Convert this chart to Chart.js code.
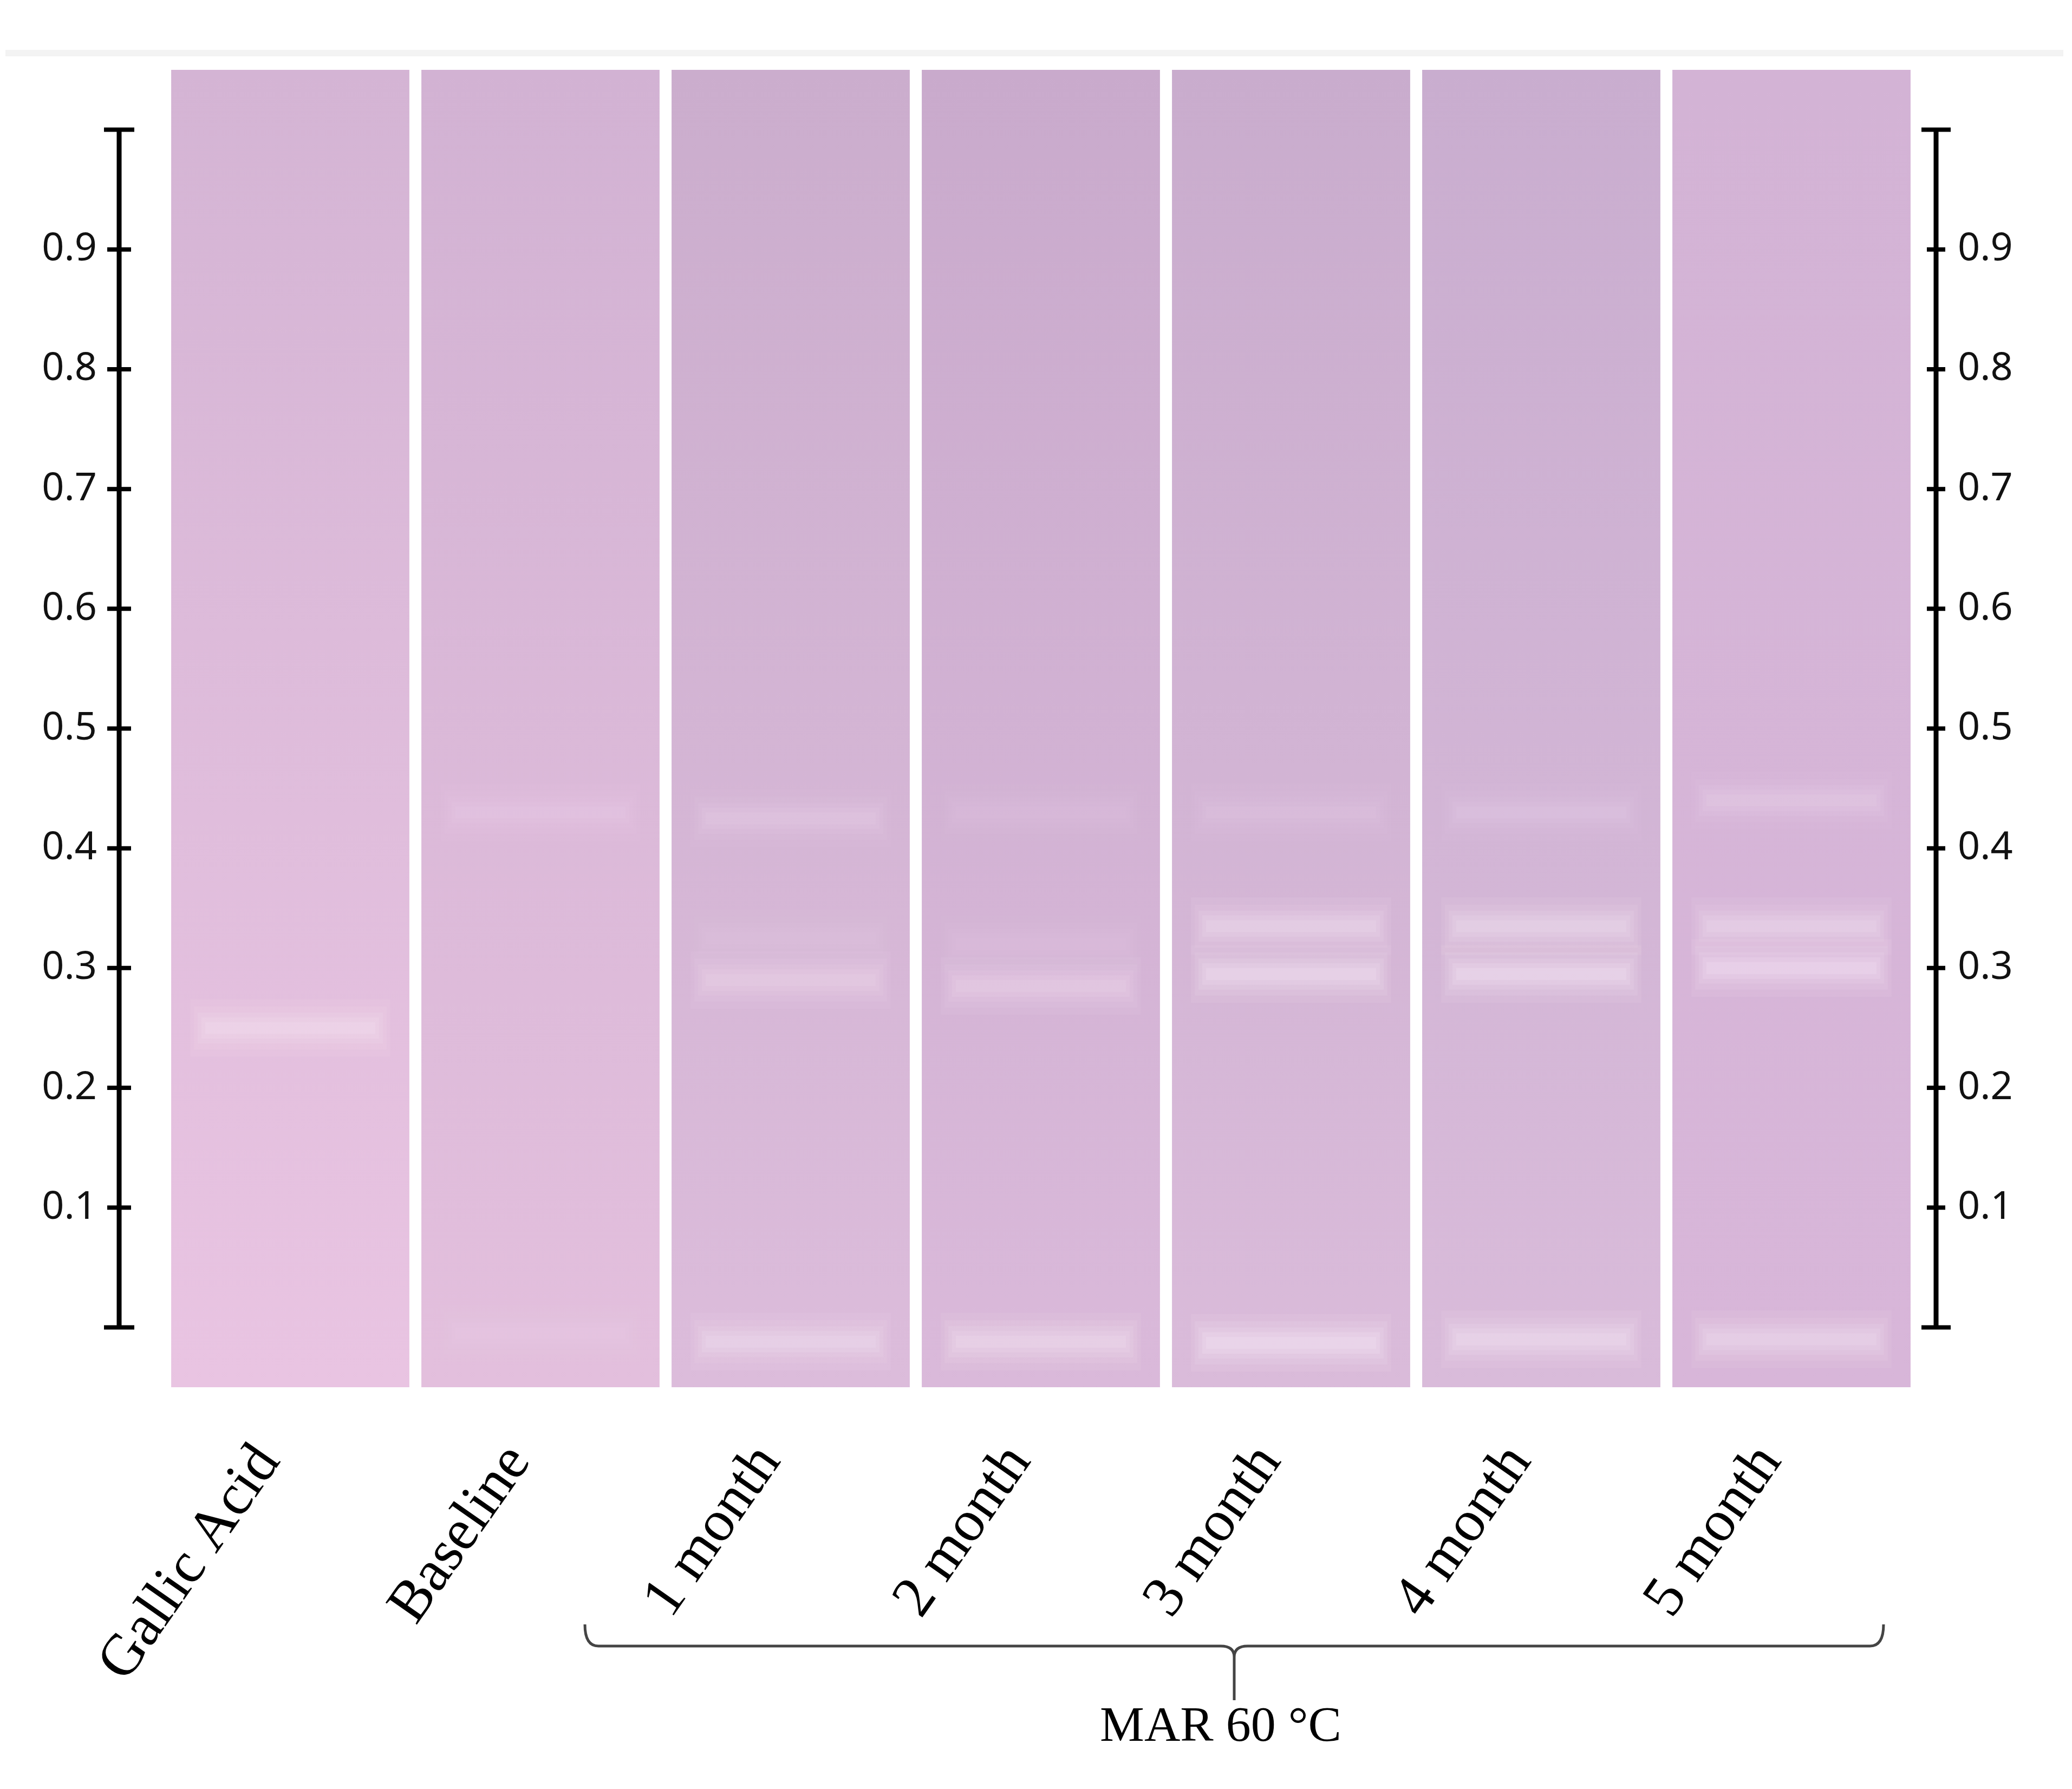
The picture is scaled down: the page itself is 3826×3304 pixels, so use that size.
<!DOCTYPE html>
<html><head><meta charset="utf-8">
<script src="https://cdn.jsdelivr.net/npm/chart.js@4.4.0/dist/chart.umd.min.js"></script>
<style>html,body{margin:0;padding:0;background:#fff}canvas{display:block}</style>
</head><body>
<canvas id="c" width="3826" height="3304"></canvas>
<script>
// ---- data ----
const lanes = ['Gallic Acid','Baseline','1 month','2 month','3 month','4 month','5 month'];
const yTicks = [0.1,0.2,0.3,0.4,0.5,0.6,0.7,0.8,0.9];
const plateRange = [-0.05, 1.05];
const laneTop = ['#d4b4d4','#d2b2d3','#cbadcd','#c9aacc','#c9accd','#c9adcf','#d3b3d5'];
const laneBottom = ['#e9c4e2','#e3bfdd','#dcbcdb','#dab9da','#dabbda','#d9bbda','#d8b6d9'];
// band Rf values per lane (null = no band) and intensity 0..1
const rfStandard = [0.25, null, null, null, null, null, null];
const intStandard = [0.75, 0, 0, 0, 0, 0, 0];
const rfTop = [null, 0.43, 0.425, 0.43, 0.43, 0.43, 0.44];
const intTop = [0, 0.3, 0.35, 0.2, 0.25, 0.3, 0.4];
const rfUpper = [null, null, 0.325, 0.32, 0.335, 0.335, 0.335];
const intUpper = [0, 0, 0.2, 0.2, 0.7, 0.75, 0.7];
const rfLower = [null, null, 0.29, 0.285, 0.295, 0.295, 0.30];
const intLower = [0, 0, 0.5, 0.55, 0.85, 0.9, 0.9];
const rfOrigin = [null, -0.005, -0.012, -0.012, -0.013, -0.01, -0.01];
const intOrigin = [0, 0.2, 0.7, 0.75, 0.95, 0.85, 0.75];

// ---- build datasets ----
function laneGradient(ctx, i) {
  const ch = ctx.chart, a = ch.chartArea;
  if (!a) return laneTop[i];
  const g = ch.ctx.createLinearGradient(0, a.top, 0, a.bottom);
  g.addColorStop(0, laneTop[i]); g.addColorStop(1, laneBottom[i]);
  return g;
}
const datasets = [{
  label: 'plate',
  data: lanes.map(() => plateRange.slice()),
  backgroundColor: ctx => laneGradient(ctx, ctx.dataIndex),
  barPercentage: 0.952, categoryPercentage: 1, grouped: false, order: 20
}];
function addBand(rf, inten, half, alphaScale, pct, order) {
  datasets.push({
    label: 'band',
    data: rf.map(v => v === null ? null : [v - half, v + half]),
    backgroundColor: ctx => 'rgba(250,236,248,' + (inten[ctx.dataIndex] * alphaScale).toFixed(3) + ')',
    barPercentage: pct, categoryPercentage: 1, grouped: false, order: order
  });
}
[[rfStandard,intStandard],[rfTop,intTop],[rfUpper,intUpper],[rfLower,intLower],[rfOrigin,intOrigin]].forEach(([rf,it]) => {
  addBand(rf, it, 0.024, 0.10, 0.80, 9);
  addBand(rf, it, 0.018, 0.12, 0.77, 8);
  addBand(rf, it, 0.013, 0.15, 0.74, 7);
  addBand(rf, it, 0.009, 0.18, 0.71, 6);
  addBand(rf, it, 0.005, 0.20, 0.68, 5);
});

// ---- decorations plugin ----
const deco = {
  id: 'deco',
  beforeDraw(chart) {
    const c = chart.ctx;
    c.save();
    c.fillStyle = '#f3f3f3';
    c.fillRect(10, 92, 3800, 12);
    c.restore();
  },
  afterDraw(chart) {
    const c = chart.ctx, y = chart.scales.y, x = chart.scales.x, a = chart.chartArea;
    const y0 = y.getPixelForValue(0), y1 = y.getPixelForValue(1);
    c.save();
    c.strokeStyle = '#000'; c.lineWidth = 9;
    [[a.left - 85, 28, 22], [a.right + 36, 27, 17]].forEach(([ax, cap, tk]) => {
      c.beginPath(); c.moveTo(ax, y1); c.lineTo(ax, y0); c.stroke();
      c.lineWidth = 8;
      c.beginPath(); c.moveTo(ax - cap, y1); c.lineTo(ax + cap, y1);
      c.moveTo(ax - cap, y0); c.lineTo(ax + cap, y0); c.stroke();
      yTicks.forEach(t => {
        const p = y.getPixelForValue(t);
        c.beginPath(); c.moveTo(ax - tk, p); c.lineTo(ax + tk, p); c.stroke();
      });
      c.lineWidth = 9;
    });
    // bracket
    const bl = x.getPixelForValue(2) - 380, br = x.getPixelForValue(6) + 170;
    const bm = (bl + br) / 2, by = 3040;
    c.strokeStyle = '#444'; c.lineWidth = 5;
    c.beginPath();
    c.moveTo(bl, by - 40); c.quadraticCurveTo(bl, by, bl + 25, by);
    c.lineTo(bm - 25, by); c.quadraticCurveTo(bm, by, bm, by + 20); c.lineTo(bm, by + 100);
    c.moveTo(bm, by + 20); c.quadraticCurveTo(bm, by, bm + 25, by);
    c.lineTo(br - 25, by); c.quadraticCurveTo(br, by, br, by - 40);
    c.stroke();
    c.fillStyle = '#000'; c.font = '92px "Liberation Serif"';
    c.textAlign = 'center'; c.textBaseline = 'alphabetic';
    c.fillText('MAR 60 °C', bm - 25, 3215);
    c.restore();
  }
};

const tickFont = {family: '"Noto Sans", sans-serif', size: 72};
function noPad(s) { s.paddingTop = 0; s.paddingBottom = 0; s.paddingLeft = 0; s.paddingRight = 0; }
new Chart(document.getElementById('c'), {
  type: 'bar',
  data: {labels: lanes, datasets: datasets},
  options: {
    responsive: false, animation: false, devicePixelRatio: 1,
    layout: {padding: {top: 129, left: 0, right: 0, bottom: 0}},
    plugins: {legend: {display: false}, tooltip: {enabled: false}},
    scales: {
      x: {
        grid: {display: false}, border: {display: false},
        ticks: {minRotation: 55, maxRotation: 55, padding: 75, labelOffset: -40, color: '#000',
          font: {family: '"Liberation Serif", serif', size: 108}},
        afterFit: s => { s.height = 742; noPad(s); }
      },
      y: {
        position: 'left', min: plateRange[0], max: plateRange[1],
        grid: {display: false}, border: {display: false},
        afterBuildTicks: s => { s.ticks = yTicks.map(v => ({value: v})); },
        ticks: {padding: 118, color: '#111', font: tickFont, callback: v => v.toFixed(1)},
        afterFit: s => { s.width = 305; noPad(s); }
      },
      y2: {
        position: 'right', min: plateRange[0], max: plateRange[1],
        grid: {display: false}, border: {display: false},
        afterBuildTicks: s => { s.ticks = yTicks.map(v => ({value: v})); },
        ticks: {padding: 68, color: '#111', font: tickFont, callback: v => v.toFixed(1)},
        afterFit: s => { s.width = 287; noPad(s); }
      }
    }
  },
  plugins: [deco]
});
</script>
</body></html>
